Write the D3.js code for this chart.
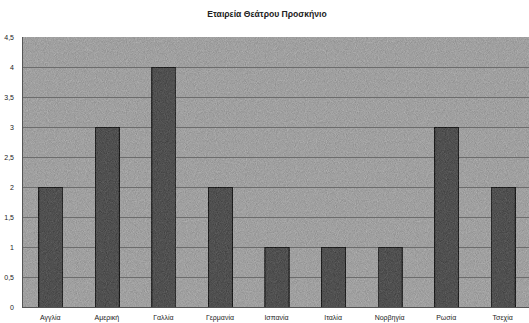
<!DOCTYPE html>
<html>
<head>
<meta charset="utf-8">
<script src="https://cdn.jsdelivr.net/npm/d3@7"></script>
<style>
  html, body { margin: 0; padding: 0; background: #ffffff; }
  svg { display: block; }
  text { font-family: "Liberation Sans", Arial, sans-serif; fill: #222; }
</style>
</head>
<body>
<svg id="chart" width="529" height="323"></svg>
<script>
// Χώρες και αριθμός παραστάσεων ανά χώρα
const categories = ["Αγγλία", "Αμερική", "Γαλλία", "Γερμανία", "Ισπανία", "Ιταλία", "Νορβηγία", "Ρωσία", "Τσεχία"];
const values = [2, 3, 4, 2, 1, 1, 1, 3, 2];
const yTicks = [0, 0.5, 1, 1.5, 2, 2.5, 3, 3.5, 4, 4.5];
const title = "Εταιρεία Θεάτρου Προσκήνιο";

const svg = d3.select("#chart");
const margin = { top: 37, right: -2, bottom: 16, left: 22 };
const W = 529, H = 323;
const iw = W - margin.left - margin.right;
const ih = H - margin.top - margin.bottom;

// zero-centred grain texture for the plot area and bars
const defs = svg.append("defs");
const f = defs.append("filter").attr("id", "grain").attr("x", 0).attr("y", 0).attr("width", 1).attr("height", 1)
  .attr("color-interpolation-filters", "sRGB");
f.append("feTurbulence").attr("type", "fractalNoise").attr("baseFrequency", 1.1).attr("numOctaves", 1).attr("seed", 5).attr("result", "n");
f.append("feColorMatrix").attr("in", "n").attr("type", "matrix")
  .attr("values", "0.33 0.33 0.33 0 0  0.33 0.33 0.33 0 0  0.33 0.33 0.33 0 0  0 0 0 0 1").attr("result", "ng");
f.append("feComposite").attr("in", "SourceGraphic").attr("in2", "ng").attr("operator", "arithmetic")
  .attr("k1", 0).attr("k2", 1).attr("k3", 0.35).attr("k4", -0.175);

const g = svg.append("g").attr("transform", `translate(${margin.left},${margin.top})`);

const x = d3.scaleBand().domain(categories).range([0, iw]).paddingInner(0.575).paddingOuter(0.2875);
const y = d3.scaleLinear().domain([0, 4.5]).range([ih, 0]);

g.append("rect").attr("width", iw).attr("height", ih).attr("fill", "#a0a0a0").attr("filter", "url(#grain)");

// horizontal gridlines
g.selectAll(".grid").data(yTicks.filter(t => t > 0 && t < 4.5)).join("line")
  .attr("x1", 0).attr("x2", iw)
  .attr("y1", d => Math.round(y(d)) + 0.5).attr("y2", d => Math.round(y(d)) + 0.5)
  .attr("stroke", "#6c6c6c").attr("stroke-width", 1);

// bars
g.selectAll(".bar").data(values).join("rect")
  .attr("x", (d, i) => x(categories[i]) + 0.5)
  .attr("y", d => y(d) + 0.5)
  .attr("width", x.bandwidth())
  .attr("height", d => ih - y(d))
  .attr("fill", "#505050")
  .attr("stroke", "#1e1e1e").attr("stroke-width", 1)
  .attr("filter", "url(#grain)");

// left axis line and baseline
g.append("line").attr("x1", 0.5).attr("x2", 0.5).attr("y1", 0).attr("y2", ih).attr("stroke", "#555");
g.append("line").attr("x1", 0).attr("x2", iw).attr("y1", ih + 0.5).attr("y2", ih + 0.5).attr("stroke", "#555");

// y axis labels
const yAxis = d3.axisLeft(y).tickValues(yTicks).tickSize(0).tickPadding(8)
  .tickFormat(d => String(d).replace(".", ","));
const ya = g.append("g").call(yAxis);
ya.select(".domain").remove();
ya.selectAll("text").style("font-size", "7px").style("font-family", "Liberation Sans, Arial, sans-serif").attr("fill", "#222");

// x axis labels
const xAxis = d3.axisBottom(x).tickSize(0).tickPadding(8);
const xa = g.append("g").attr("transform", `translate(0,${ih})`).call(xAxis);
xa.select(".domain").remove();
xa.selectAll("text").style("font-size", "7px").style("font-family", "Liberation Sans, Arial, sans-serif").attr("fill", "#222");

// title
svg.append("text").attr("x", 267).attr("y", 17).attr("text-anchor", "middle")
  .style("font-size", "8.6px").style("font-weight", "bold").text(title);
</script>
</body>
</html>
